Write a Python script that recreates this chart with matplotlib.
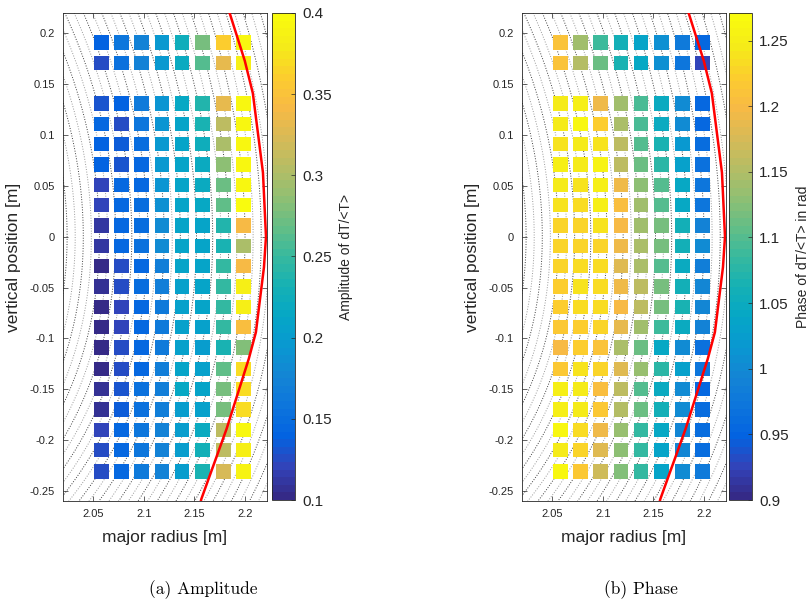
import numpy as np
import matplotlib
matplotlib.use('Agg')
import matplotlib.pyplot as plt
from matplotlib.colors import LinearSegmentedColormap

plt.rcParams['font.family'] = 'Liberation Sans'
plt.rcParams['axes.unicode_minus'] = False

# ---- data ----
R_cols = [2.058, 2.078, 2.098, 2.118, 2.138, 2.158, 2.179, 2.199]
z_rows = [0.191, 0.171,
          0.131, 0.111, 0.091, 0.071, 0.051, 0.031, 0.011, -0.009, -0.029,
          -0.049, -0.069, -0.089, -0.109, -0.130, -0.150, -0.170, -0.190,
          -0.210, -0.231]

amplitude = [
    [0.140, 0.160, 0.175, 0.195, 0.225, 0.275, 0.360, 0.395],
    [0.125, 0.155, 0.175, 0.195, 0.220, 0.260, 0.330, 0.385],
    [0.130, 0.140, 0.165, 0.190, 0.215, 0.240, 0.330, 0.395],
    [0.145, 0.125, 0.160, 0.190, 0.210, 0.235, 0.310, 0.395],
    [0.140, 0.135, 0.150, 0.195, 0.210, 0.225, 0.300, 0.395],
    [0.140, 0.130, 0.145, 0.195, 0.210, 0.220, 0.285, 0.395],
    [0.120, 0.145, 0.145, 0.190, 0.210, 0.220, 0.270, 0.395],
    [0.120, 0.145, 0.150, 0.185, 0.210, 0.215, 0.265, 0.400],
    [0.110, 0.145, 0.150, 0.180, 0.210, 0.210, 0.240, 0.340],
    [0.110, 0.145, 0.155, 0.180, 0.210, 0.210, 0.235, 0.300],
    [0.100, 0.125, 0.145, 0.170, 0.210, 0.210, 0.250, 0.340],
    [0.105, 0.125, 0.150, 0.170, 0.205, 0.210, 0.250, 0.385],
    [0.100, 0.120, 0.145, 0.165, 0.205, 0.210, 0.250, 0.385],
    [0.100, 0.120, 0.145, 0.165, 0.205, 0.205, 0.250, 0.345],
    [0.100, 0.125, 0.145, 0.165, 0.205, 0.200, 0.235, 0.280],
    [0.100, 0.125, 0.145, 0.170, 0.210, 0.205, 0.265, 0.370],
    [0.105, 0.130, 0.155, 0.170, 0.215, 0.210, 0.275, 0.370],
    [0.105, 0.135, 0.155, 0.170, 0.200, 0.205, 0.275, 0.370],
    [0.120, 0.145, 0.160, 0.175, 0.200, 0.220, 0.310, 0.395],
    [0.125, 0.145, 0.160, 0.175, 0.200, 0.230, 0.310, 0.385],
    [0.125, 0.145, 0.165, 0.175, 0.200, 0.235, 0.325, 0.390],
]

phase = [
    [1.210, 1.140, 1.090, 1.060, 1.035, 1.010, 0.980, 0.955],
    [1.210, 1.155, 1.110, 1.065, 1.040, 1.010, 0.975, 0.925],
    [1.245, 1.250, 1.190, 1.140, 1.095, 1.050, 1.000, 0.955],
    [1.245, 1.260, 1.220, 1.145, 1.095, 1.050, 1.000, 0.955],
    [1.240, 1.245, 1.240, 1.160, 1.100, 1.065, 1.020, 0.960],
    [1.250, 1.245, 1.255, 1.160, 1.110, 1.075, 1.030, 0.965],
    [1.245, 1.240, 1.250, 1.190, 1.130, 1.100, 1.040, 0.970],
    [1.240, 1.235, 1.250, 1.205, 1.140, 1.100, 1.040, 0.970],
    [1.230, 1.225, 1.240, 1.200, 1.140, 1.115, 1.060, 0.990],
    [1.230, 1.230, 1.230, 1.195, 1.145, 1.120, 1.060, 1.000],
    [1.225, 1.235, 1.235, 1.180, 1.145, 1.100, 1.050, 0.985],
    [1.220, 1.240, 1.235, 1.195, 1.160, 1.120, 1.060, 0.995],
    [1.220, 1.235, 1.235, 1.200, 1.160, 1.120, 1.065, 0.995],
    [1.215, 1.220, 1.225, 1.185, 1.140, 1.090, 1.050, 0.990],
    [1.200, 1.220, 1.210, 1.145, 1.110, 1.040, 1.000, 0.965],
    [1.215, 1.240, 1.225, 1.180, 1.135, 1.075, 1.030, 0.975],
    [1.250, 1.245, 1.205, 1.160, 1.100, 1.050, 1.000, 0.955],
    [1.250, 1.245, 1.215, 1.155, 1.110, 1.060, 1.000, 0.960],
    [1.260, 1.235, 1.190, 1.135, 1.080, 1.040, 0.995, 0.960],
    [1.245, 1.225, 1.180, 1.130, 1.080, 1.035, 0.995, 0.960],
    [1.260, 1.215, 1.170, 1.125, 1.085, 1.035, 1.000, 0.980],
]

# separatrix (red line)
sep_R = [2.180, 2.185, 2.200, 2.208, 2.218, 2.221, 2.219, 2.211, 2.204, 2.182, 2.157, 2.154]
sep_z = [0.235, 0.220, 0.173, 0.141, 0.063, 0.000, -0.030, -0.094, -0.120, -0.189, -0.258, -0.270]

# parula-like colormap
parula = LinearSegmentedColormap.from_list('parula', [
    (0.2081, 0.1663, 0.5292), (0.1959, 0.2645, 0.7279), (0.0117, 0.3875, 0.8820),
    (0.0498, 0.4586, 0.8641), (0.0793, 0.5200, 0.8312), (0.0343, 0.5966, 0.8199),
    (0.0228, 0.6535, 0.7768), (0.0843, 0.6928, 0.7062), (0.2178, 0.7250, 0.6193),
    (0.3953, 0.7459, 0.5244), (0.5709, 0.7485, 0.4494), (0.7184, 0.7411, 0.3905),
    (0.8507, 0.7299, 0.3360), (0.9739, 0.7314, 0.2666), (0.9880, 0.8066, 0.1794),
    (0.9598, 0.9218, 0.0948), (0.9763, 0.9831, 0.0538)], N=64)

# background flux surfaces (simple model)
RR, ZZ = np.meshgrid(np.linspace(1.95, 2.3, 300), np.linspace(-0.3, 0.3, 300))
psi = np.hypot((RR - 1.70) / 0.52, ZZ / (0.577 + 0.16 * ZZ))
levels = np.arange(0.50, 1.15, 0.0154)

grey = (0.15, 0.15, 0.15)
W, H = 811, 609


def box(l, t, r, b):
    return [l / W, 1 - b / H, (r - l) / W, (b - t) / H]


def fmt(v):
    v = round(v, 2)
    return '0' if v == 0 else '%g' % v


fig = plt.figure(figsize=(8.11, 6.09), dpi=100)

panels = [
    (box(63, 13, 267, 501), box(272, 13, 295, 500), amplitude, (0.1, 0.4),
     np.arange(0.1, 0.401, 0.05), 'Amplitude of dT/<T>', '(a) Amplitude', 203),
    (box(522, 13, 726, 501), box(729, 13, 752, 500), phase, (0.9, 1.271),
     np.arange(0.9, 1.251, 0.05), 'Phase of dT/<T> in rad', '(b) Phase', 641),
]

Rg, Zg = np.meshgrid(R_cols, z_rows)

for pos, cpos, vals, clim, cticks, clabel, caption, cx in panels:
    ax = fig.add_axes(pos)
    ax.contour(RR, ZZ, psi, levels=levels, colors=['0.25', '0.6'],
               linestyles=':', linewidths=0.7, zorder=1)
    sc = ax.scatter(Rg.ravel(), Zg.ravel(), c=np.array(vals).ravel(), cmap=parula,
                    vmin=clim[0], vmax=clim[1], marker='s', s=110, linewidths=0, zorder=2)
    ax.plot(sep_R, sep_z, color='red', lw=1.8, zorder=3)
    ax.set_xlim(2.02, 2.222)
    ax.set_ylim(-0.26, 0.22)
    ax.set_xticks([2.05, 2.1, 2.15, 2.2])
    ax.set_xticklabels(['2.05', '2.1', '2.15', '2.2'])
    yt = np.arange(-0.25, 0.201, 0.05)
    ax.set_yticks(yt)
    ax.set_yticklabels([fmt(v) for v in yt])
    ax.tick_params(direction='in', length=3.5, width=0.5, top=True, right=True,
                   labelsize=8, colors=grey, pad=6)
    for sp in ax.spines.values():
        sp.set_linewidth(0.6)
        sp.set_color(grey)
    ax.set_xlabel('major radius [m]', fontsize=12.5, color=grey, labelpad=8)
    ax.set_ylabel('vertical position [m]', fontsize=12.5, color=grey, labelpad=6)

    cax = fig.add_axes(cpos)
    cb = fig.colorbar(sc, cax=cax, ticks=cticks)
    cb.ax.set_yticklabels([fmt(v) for v in cticks])
    cb.ax.tick_params(direction='in', length=3, width=0.5, labelsize=11,
                      colors=grey, pad=5)
    cb.outline.set_linewidth(0.6)
    cb.outline.set_edgecolor(grey)
    cb.set_label(clabel, fontsize=10, color=grey, labelpad=5)

    fig.text(cx / W, 1 - 590 / H, caption, family='cmr10', fontsize=12.5,
             ha='center', va='center')

fig.savefig('out.png', dpi=100)
